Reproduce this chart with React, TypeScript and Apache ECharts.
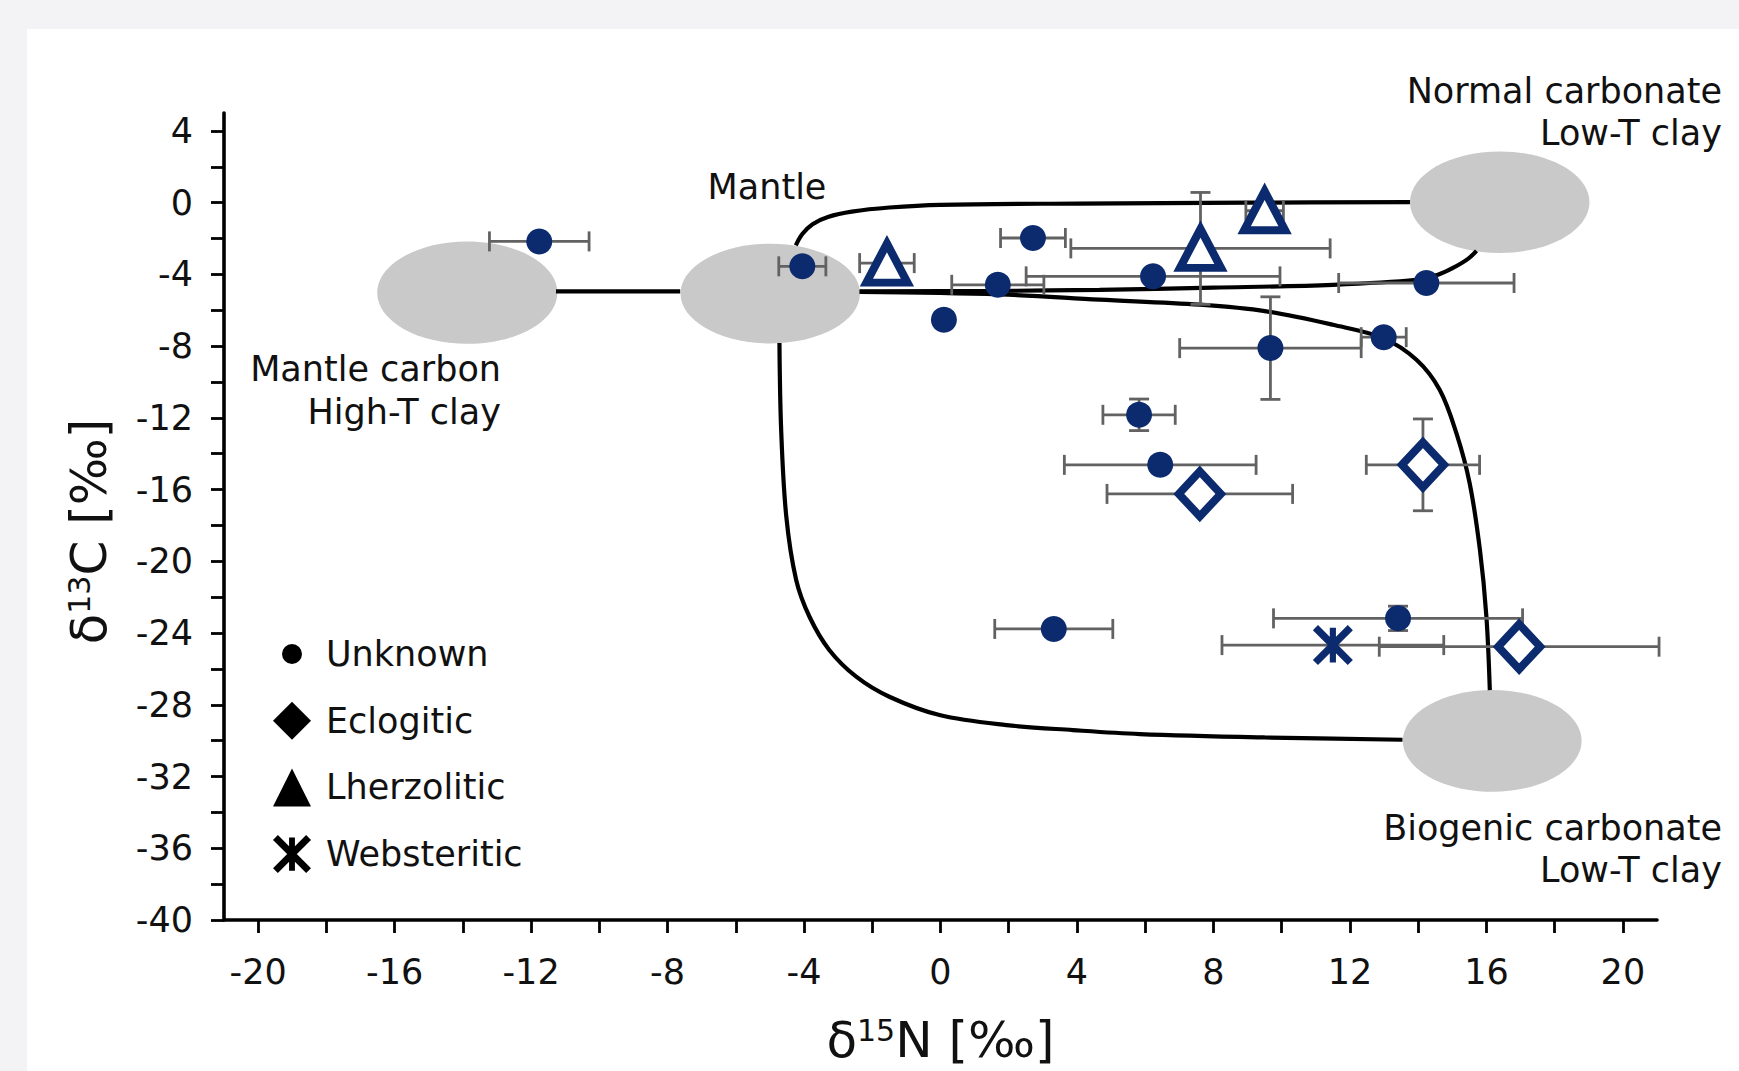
import React, { useEffect, useRef } from 'react';
import * as echarts from 'echarts';

const NAVY = '#0c2a6e';
const FONT = '"DejaVu Sans", "Liberation Sans", sans-serif';
const TEXT = '#111111';

// ---- axis ticks / labels ----
const xTickValues = [-20, -18, -16, -14, -12, -10, -8, -6, -4, -2, 0, 2, 4, 6, 8, 10, 12, 14, 16, 18, 20];
const xLabelValues = [-20, -16, -12, -8, -4, 0, 4, 8, 12, 16, 20];
const yTickValues = [-40, -38, -36, -34, -32, -30, -28, -26, -24, -22, -20, -18, -16, -14, -12, -10, -8, -6, -4, -2, 0, 2, 4];
const yLabelValues = [-40, -36, -32, -28, -24, -20, -16, -12, -8, -4, 0, 4];

// ---- samples (δ15N, δ13C, errors) ----
const unknownX = [-11.76, -4.05, 2.71, 1.68, 6.23, 14.24, 0.1, 12.99, 9.67, 5.82, 6.44, 3.32, 13.41];
const unknownY = [-2.16, -3.55, -1.97, -4.58, -4.11, -4.48, -6.53, -7.5, -8.11, -11.83, -14.62, -23.77, -23.18];
const unknownXErr = [1.46, 0.69, 0.95, 1.35, 3.72, 2.57, 0, 0.66, 2.66, 1.06, 2.81, 1.73, 3.65];
const unknownYErr = [0, 0, 0, 0, 0, 0, 0, 0, 2.86, 0.88, 0, 0, 0.68];

const eclogiticX = [7.6, 14.14, 16.96];
const eclogiticY = [-16.24, -14.62, -24.76];
const eclogiticXErr = [2.72, 1.66, 4.1];
const eclogiticYErr = [0, 2.56, 0];

const lherzoliticX = [-1.57, 7.62, 9.5];
const lherzoliticY = [-3.37, -2.55, -0.45];
const lherzoliticXErr = [0.8, 3.8, 0.55];
const lherzoliticYErr = [0, 3.12, 0];

const websteriticX = [11.5];
const websteriticY = [-24.67];
const websteriticXErr = [3.25];
const websteriticYErr = [0];

// ---- mixing curves ----
const curveMantleLink = [[-11.27, -4.95], [-7.63, -4.95]];
const curveUpperTop = [[-4.24, -2.38], [-4.05, -1.75], [-3.75, -1.2], [-3.3, -0.8], [-2.6, -0.5], [-1.5, -0.27], [0, -0.12], [4, -0.05], [9, 0], [13.76, 0.03]];
const curveUpperBottom = [[-2.37, -4.95], [1.73, -4.92], [4.66, -4.86], [8, -4.74], [11.5, -4.58], [13.95, -4.3], [14.6, -4.0], [15.02, -3.64], [15.45, -3.15], [15.71, -2.69]];
const curveRightDescent = [[-2.37, -4.98], [1.73, -5.12], [4.66, -5.41], [7.6, -5.69], [9.55, -6.06], [11.5, -6.81], [12.97, -7.55], [13.95, -8.76], [14.63, -10.43], [15.12, -12.85], [15.51, -15.65], [15.81, -19.36], [16.0, -23.08], [16.1, -27.18]];
const curveLowerLoop = [[-4.72, -7.83], [-4.67, -12.67], [-4.52, -17.5], [-4.23, -21.04], [-3.84, -23.09], [-3.26, -24.94], [-2.47, -26.43], [-1.5, -27.55], [-0.03, -28.57], [1.93, -29.13], [3.88, -29.41], [5.84, -29.63], [9.5, -29.82], [13.54, -29.95]];

// ---- end-member fields ----
const fieldNames = ['Mantle carbon', 'Mantle', 'Normal carbonate', 'Biogenic carbonate'];
const fieldCX = [-13.87, -4.99, 16.39, 16.17];
const fieldCY = [-5.02, -5.07, 0.03, -30.01];
const fieldRX = [2.64, 2.63, 2.63, 2.62];
const fieldRY = [2.85, 2.78, 2.83, 2.84];

const seriesNames = ['Unknown', 'Eclogitic', 'Lherzolitic', 'Websteritic'];

const ASTERISK =
  'path://M0.5,5.5L5.5,0.5L39.5,34.5L34.5,39.5Z M34.5,0.5L39.5,5.5L5.5,39.5L0.5,34.5Z M17,3L23,3L23,37L17,37Z';
const LEGEND_DOT =
  'path://M19,9A10,10,0,1,1,19,29A10,10,0,1,1,19,9Z M0,0L0.01,0L0.01,0.01L0,0.01Z M38,38L37.99,38L37.99,37.99L38,37.99Z';

function pts(xs: number[], ys: number[]) {
  return xs.map((x, i) => [x, ys[i]]);
}
function errs(xs: number[], ys: number[], ex: number[], ey: number[]) {
  return xs.map((x, i) => [x, ys[i], ex[i], ey[i]]);
}

const errorData = [
  ...errs(unknownX, unknownY, unknownXErr, unknownYErr),
  ...errs(eclogiticX, eclogiticY, eclogiticXErr, eclogiticYErr),
  ...errs(lherzoliticX, lherzoliticY, lherzoliticXErr, lherzoliticYErr),
  ...errs(websteriticX, websteriticY, websteriticXErr, websteriticYErr),
];

const fieldData = fieldNames.map((n, i) => ({ name: n, value: [fieldCX[i], fieldCY[i], fieldRX[i], fieldRY[i]] }));

function lineSeries(name: string, data: number[][]) {
  return {
    type: 'line',
    name,
    data,
    smooth: 0.35,
    symbol: 'none',
    z: 2,
    silent: true,
    lineStyle: { color: '#000', width: 4.2 },
  };
}

const richTitle = {
  d: { fontSize: 50, fontFamily: FONT, color: TEXT },
  s: { fontSize: 30, fontFamily: FONT, color: TEXT, verticalAlign: 'top' },
};

function txt(text: string, x: number, y: number, align: string) {
  return {
    type: 'text',
    x,
    y,
    silent: true,
    style: {
      text,
      fill: TEXT,
      fontSize: 35,
      fontFamily: FONT,
      textAlign: align,
      align,
      textVerticalAlign: 'middle',
      verticalAlign: 'middle',
    },
  };
}

const option: any = {
  animation: false,
  backgroundColor: '#f3f3f5',
  grid: { left: 224, right: 82, top: 113, bottom: 151, containLabel: false },
  xAxis: {
    type: 'value',
    min: -21,
    max: 21,
    name: '{d|δ}{s|15}{d|N [‰]}',
    nameLocation: 'middle',
    nameGap: 95,
    nameTextStyle: { fontSize: 50, fontFamily: FONT, color: TEXT, rich: richTitle },
    axisLine: { show: true, onZero: false, lineStyle: { color: '#000', width: 3.6 } },
    axisTick: { show: true, customValues: xTickValues, length: 13, lineStyle: { color: '#000', width: 2.8 } },
    axisLabel: { customValues: xLabelValues, fontSize: 35, fontFamily: FONT, color: TEXT, margin: 34 },
    splitLine: { show: false },
  },
  yAxis: {
    type: 'value',
    min: -40,
    max: 5,
    name: '{d|δ}{s|13}{d|C [‰]}',
    nameLocation: 'middle',
    nameGap: 110,
    nameTextStyle: { fontSize: 50, fontFamily: FONT, color: TEXT, rich: richTitle, padding: [0, 30, 0, 0] },
    axisLine: { show: true, onZero: false, lineStyle: { color: '#000', width: 3.6 } },
    axisTick: { show: true, customValues: yTickValues, length: 13, lineStyle: { color: '#000', width: 2.8 } },
    axisLabel: { customValues: yLabelValues, fontSize: 35, fontFamily: FONT, color: TEXT, margin: 31 },
    splitLine: { show: false },
  },
  legend: {
    orient: 'vertical',
    left: 268,
    top: 630,
    itemWidth: 38,
    itemHeight: 38,
    itemGap: 28.7,
    selectedMode: false,
    textStyle: { fontSize: 35, fontFamily: FONT, color: TEXT, padding: [0, 0, 0, 10] },
    itemStyle: { color: '#000', borderColor: '#000', borderWidth: 0 },
    data: [
      { name: 'Unknown', icon: LEGEND_DOT },
      { name: 'Eclogitic', icon: 'diamond' },
      { name: 'Lherzolitic', icon: 'triangle' },
      { name: 'Websteritic', icon: ASTERISK },
    ],
  },
  graphic: [
    { type: 'rect', z: -100, silent: true, shape: { x: 27, y: 29, width: 1739 - 27, height: 1071 - 29 }, style: { fill: '#ffffff' } },
    txt('Normal carbonate', 1722, 91, 'right'),
    txt('Low-T clay', 1722, 133, 'right'),
    txt('Mantle', 767, 187, 'center'),
    txt('Mantle carbon', 501, 369, 'right'),
    txt('High-T clay', 501, 412, 'right'),
    txt('Biogenic carbonate', 1722, 828, 'right'),
    txt('Low-T clay', 1722, 870, 'right'),
  ],
  series: [
    {
      type: 'custom',
      name: 'fields',
      z: 1,
      silent: true,
      encode: { x: 0, y: 1 },
      data: fieldData,
      renderItem: (params: any, api: any) => {
        const c = api.coord([api.value(0), api.value(1)]);
        const s = api.size([api.value(2), api.value(3)]);
        return {
          type: 'ellipse',
          shape: { cx: c[0], cy: c[1], rx: s[0], ry: s[1] },
          style: { fill: '#c9c9c9' },
        };
      },
    },
    lineSeries('link', curveMantleLink),
    lineSeries('upperTop', curveUpperTop),
    lineSeries('upperBottom', curveUpperBottom),
    lineSeries('rightDescent', curveRightDescent),
    lineSeries('lowerLoop', curveLowerLoop),
    {
      type: 'custom',
      name: 'errors',
      z: 3,
      silent: true,
      encode: { x: 0, y: 1 },
      data: errorData,
      renderItem: (params: any, api: any) => {
        const x = api.value(0);
        const y = api.value(1);
        const ex = api.value(2);
        const ey = api.value(3);
        const style = { stroke: '#626262', lineWidth: 2.8, fill: null };
        const cap = 10;
        const children: any[] = [];
        if (ex > 0) {
          const l = api.coord([x - ex, y]);
          const r = api.coord([x + ex, y]);
          children.push({ type: 'line', shape: { x1: l[0], y1: l[1], x2: r[0], y2: r[1] }, style });
          children.push({ type: 'line', shape: { x1: l[0], y1: l[1] - cap, x2: l[0], y2: l[1] + cap }, style });
          children.push({ type: 'line', shape: { x1: r[0], y1: r[1] - cap, x2: r[0], y2: r[1] + cap }, style });
        }
        if (ey > 0) {
          const t = api.coord([x, y + ey]);
          const b = api.coord([x, y - ey]);
          children.push({ type: 'line', shape: { x1: t[0], y1: t[1], x2: b[0], y2: b[1] }, style });
          children.push({ type: 'line', shape: { x1: t[0] - cap, y1: t[1], x2: t[0] + cap, y2: t[1] }, style });
          children.push({ type: 'line', shape: { x1: b[0] - cap, y1: b[1], x2: b[0] + cap, y2: b[1] }, style });
        }
        return { type: 'group', children };
      },
    },
    {
      type: 'scatter',
      name: seriesNames[0],
      z: 5,
      symbol: 'circle',
      symbolSize: 26,
      itemStyle: { color: NAVY, opacity: 1 },
      data: pts(unknownX, unknownY),
    },
    {
      type: 'scatter',
      name: seriesNames[1],
      z: 5,
      symbol: 'diamond',
      symbolSize: [42, 45],
      itemStyle: { color: '#ffffff', borderColor: NAVY, borderWidth: 8, borderJoin: 'miter', opacity: 1 },
      data: pts(eclogiticX, eclogiticY),
    },
    {
      type: 'scatter',
      name: seriesNames[2],
      z: 5,
      symbol: 'triangle',
      symbolSize: [41, 39],
      itemStyle: { color: '#ffffff', borderColor: NAVY, borderWidth: 8, borderJoin: 'miter', opacity: 1 },
      data: pts(lherzoliticX, lherzoliticY),
    },
    {
      type: 'scatter',
      name: seriesNames[3],
      z: 5,
      symbol: ASTERISK,
      symbolSize: 40,
      itemStyle: { color: NAVY, opacity: 1 },
      data: pts(websteriticX, websteriticY),
    },
  ],
};

export default function App() {
  const ref = useRef<HTMLDivElement>(null);
  useEffect(() => {
    if (!ref.current) return;
    const chart = echarts.init(ref.current, null, { renderer: 'svg' });
    chart.setOption(option);
    return () => chart.dispose();
  }, []);
  return (
    <div
      ref={ref}
      style={{ position: 'fixed', left: 0, top: 0, width: 1739, height: 1071 }}
    />
  );
}
